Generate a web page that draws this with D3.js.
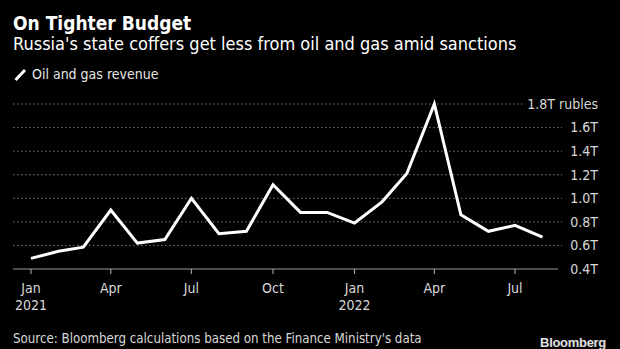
<!DOCTYPE html>
<html lang="en">
<head>
  <meta charset="UTF-8">
  <title>On Tighter Budget</title>
  <script src="https://d3js.org/d3.v7.min.js"></script>
  <style>
    html, body { margin: 0; padding: 0; background: #000; }
    svg { display: block; }
    text { font-family: "DejaVu Sans Condensed", "DejaVu Sans", sans-serif; fill: #fff; }
    .grid line { stroke: #7a7a7a; stroke-dasharray: 1.5,2.5; }
    .axis text { fill: #d8d8d8; font-size: 14px; }
  </style>
</head>
<body>
  <svg></svg>
  <script>
    // monthly oil & gas revenue, trillion rubles
    const months = ["2021-01", "2021-02", "2021-03", "2021-04", "2021-05", "2021-06",
                    "2021-07", "2021-08", "2021-09", "2021-10", "2021-11", "2021-12",
                    "2022-01", "2022-02", "2022-03", "2022-04", "2022-05", "2022-06",
                    "2022-07", "2022-08"];
    const revenue = [0.49, 0.55, 0.585, 0.90, 0.62, 0.65, 1.00, 0.70, 0.72, 1.115, 0.88, 0.88,
                     0.79, 0.97, 1.21, 1.80, 0.86, 0.72, 0.77, 0.67];
    const yTicks = [0.4, 0.6, 0.8, 1.0, 1.2, 1.4, 1.6, 1.8];
    const xTicks = ["2021-01", "2021-04", "2021-07", "2021-10", "2022-01", "2022-04", "2022-07"];

    const width = 620, height = 349;
    const parse = d3.timeParse("%Y-%m");
    const data = months.map((m, i) => ({ date: parse(m), value: revenue[i] }));

    const svg = d3.select("svg").attr("width", width).attr("height", height);
    svg.append("rect").attr("width", width).attr("height", height).attr("fill", "#000");

    const x = d3.scaleTime()
        .domain([parse("2021-01"), parse("2022-07")])
        .range([31, 515]);
    const y = d3.scaleLinear().domain([0.4, 1.8]).range([269, 104]);

    // titles
    svg.append("text").attr("x", 13).attr("y", 30)
        .style("font-size", "19px").style("font-weight", "bold")
        .text("On Tighter Budget");
    svg.append("text").attr("x", 13).attr("y", 50)
        .style("font-size", "18px")
        .text("Russia's state coffers get less from oil and gas amid sanctions");

    // legend
    svg.append("line").attr("x1", 15.5).attr("y1", 80).attr("x2", 25).attr("y2", 70)
        .attr("stroke", "#fff").attr("stroke-width", 3);
    svg.append("text").attr("x", 32).attr("y", 79)
        .style("font-size", "14px").style("fill", "#e6e6e6")
        .text("Oil and gas revenue");

    // gridlines
    const grid = svg.append("g").attr("class", "grid");
    grid.selectAll("line")
        .data(yTicks.filter(d => d > 0.4))
        .join("line")
        .attr("x1", 13)
        .attr("x2", d => d === 1.8 ? 524 : 562)
        .attr("y1", d => y(d)).attr("y2", d => y(d));

    // y labels
    const yAxis = svg.append("g").attr("class", "axis");
    yAxis.selectAll("text")
        .data(yTicks)
        .join("text")
        .attr("x", 598)
        .attr("y", d => y(d))
        .attr("dy", "0.35em")
        .attr("text-anchor", "end")
        .text(d => d3.format(".1f")(d) + "T" + (d === 1.8 ? " rubles" : ""));

    // x axis
    const xAxis = svg.append("g").attr("class", "axis");
    xAxis.append("line")
        .attr("x1", 13).attr("x2", 558)
        .attr("y1", y(0.4)).attr("y2", y(0.4))
        .attr("stroke", "#9a9a9a").attr("stroke-width", 1.2);
    const xt = xAxis.selectAll("g.tick")
        .data(xTicks.map(parse))
        .join("g").attr("class", "tick")
        .attr("transform", d => `translate(${x(d)},${y(0.4)})`);
    xt.append("line").attr("y2", 5).attr("stroke", "#9a9a9a").attr("stroke-width", 1.2);
    xt.append("text").attr("y", 24).attr("text-anchor", "middle")
        .text(d3.timeFormat("%b"));
    xt.filter(d => d.getMonth() === 0)
        .append("text").attr("y", 41).attr("text-anchor", "middle")
        .text(d3.timeFormat("%Y"));

    // line
    const line = d3.line().x(d => x(d.date)).y(d => y(d.value));
    svg.append("path").datum(data)
        .attr("d", line)
        .attr("fill", "none")
        .attr("stroke", "#fff")
        .attr("stroke-width", 3)
        .attr("stroke-linejoin", "miter");

    // footer
    svg.append("text").attr("x", 13).attr("y", 343)
        .style("font-size", "13.2px").style("fill", "#d8d8d8")
        .text("Source: Bloomberg calculations based on the Finance Ministry's data");
    svg.append("text").attr("x", 606).attr("y", 347)
        .attr("text-anchor", "end")
        .style("font-family", "'Liberation Sans', Arial, sans-serif")
        .style("font-size", "13px").style("font-weight", "bold")
        .style("letter-spacing", "-0.3px")
        .style("fill", "#e0e0e0")
        .text("Bloomberg");
  </script>
</body>
</html>
